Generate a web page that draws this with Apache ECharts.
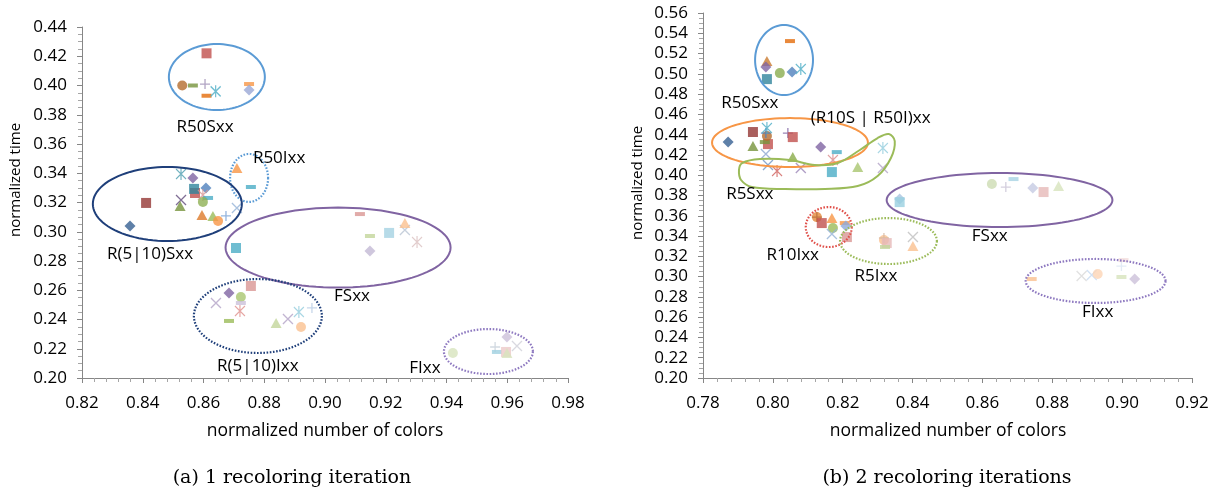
<!DOCTYPE html>
<html><head><meta charset="utf-8">
<script src="https://cdn.jsdelivr.net/npm/echarts@6/dist/echarts.min.js"></script>
<style>html,body{margin:0;padding:0;background:#fff}#c{width:1225px;height:493px}</style>
</head><body><div id="c"></div>
<script>
// ---------------- DATA (normalized number of colors, normalized time) ----------------
// (a) 1 recoloring iteration
const leftR50S   = [[0.861,0.422],[0.853,0.400],[0.8565,0.400],[0.8605,0.401],[0.861,0.393],[0.864,0.396],[0.875,0.401],[0.875,0.397]];
const leftR50I   = [[0.871,0.3436],[0.8756,0.3306]];
const leftR510S  = [[0.8526,0.3395],[0.8565,0.3368],[0.8572,0.3265],[0.8569,0.3293],[0.8608,0.3299],[0.8598,0.3251],[0.8615,0.3231],[0.8598,0.3204],[0.8526,0.3217],[0.8523,0.3176],[0.8411,0.3197],[0.8358,0.3039],[0.8595,0.3115],[0.8631,0.3108],[0.8674,0.3108],[0.8648,0.3074],[0.8710,0.3162]];
const leftFS     = [[0.8707,0.2889],[0.9115,0.3121],[0.9263,0.3012],[0.9263,0.3060],[0.9211,0.2992],[0.9148,0.2971],[0.9303,0.2930],[0.9148,0.2868]];
const leftR510I  = [[0.8756,0.2629],[0.8684,0.2581],[0.8641,0.2513],[0.8723,0.2554],[0.8723,0.2513],[0.8720,0.2458],[0.8684,0.2390],[0.8839,0.2376],[0.8878,0.2403],[0.8914,0.2451],[0.8957,0.2479],[0.8921,0.2349]];
const leftFI     = [[0.9421,0.2171],[0.9560,0.2212],[0.9566,0.2178],[0.9599,0.2280],[0.9596,0.2178],[0.9599,0.2171],[0.9632,0.2219]];
// (b) 2 recoloring iterations
const rightR50S    = [[0.8049,0.5323],[0.7983,0.5126],[0.7980,0.5067],[0.7983,0.4948],[0.8020,0.5007],[0.8055,0.5017],[0.8080,0.5047]];
const rightR10S50I = [[0.7872,0.4327],[0.7943,0.4426],[0.7986,0.4307],[0.7977,0.4327],[0.7983,0.4386],[0.7980,0.4416],[0.7983,0.4465],[0.8043,0.4416],[0.8057,0.4376],[0.7943,0.4288],[0.8137,0.4278],[0.8183,0.4228]];
const rightR5S     = [[0.7980,0.4209],[0.8057,0.4179],[0.7986,0.4100],[0.8012,0.4041],[0.8080,0.4071],[0.8172,0.4150],[0.8169,0.4031],[0.8243,0.4080],[0.8315,0.4268],[0.8315,0.4071]];
const rightR10I    = [[0.8126,0.3587],[0.8126,0.3587],[0.8140,0.3528],[0.8169,0.3578],[0.8172,0.3479],[0.8169,0.3420],[0.8206,0.3528],[0.8209,0.3499],[0.8212,0.3390]];
const rightR5I     = [[0.8318,0.3361],[0.8318,0.3381],[0.8326,0.3331],[0.8321,0.3292],[0.8401,0.3390],[0.8401,0.3302]];
const rightFS      = [[0.8363,0.3765],[0.8363,0.3735],[0.8627,0.3913],[0.8667,0.3883],[0.8689,0.3962],[0.8744,0.3873],[0.8775,0.3834],[0.8818,0.3893]];
const rightFI      = [[0.8741,0.2976],[0.8884,0.3006],[0.8913,0.3016],[0.8930,0.3025],[0.8998,0.3104],[0.9004,0.3163],[0.8998,0.2996],[0.9036,0.2976]];

// axis ranges / tick labels
const leftXTicks  = [0.82,0.84,0.86,0.88,0.90,0.92,0.94,0.96,0.98];
const leftYTicks  = [0.20,0.22,0.24,0.26,0.28,0.30,0.32,0.34,0.36,0.38,0.40,0.42,0.44];
const rightXTicks = [0.78,0.80,0.82,0.84,0.86,0.88,0.90,0.92];
const rightYTicks = [0.20,0.22,0.24,0.26,0.28,0.30,0.32,0.34,0.36,0.38,0.40,0.42,0.44,0.46,0.48,0.50,0.52,0.54,0.56];

// group annotations: [centerX, centerY, radiusX, radiusY] in data units
const leftGroups  = [[0.8644,0.4058,0.0158,0.02256],[0.8750,0.3368,0.00626,0.01641],[0.8481,0.3190,0.02453,0.0253],[0.9043,0.2892,0.03704,0.02735],[0.8779,0.2424,0.02107,0.0253],[0.9538,0.2181,0.01465,0.01538]];
const rightGroups = [[0.8032,0.5136,0.00829,0.03452],[0.8049,0.4322,0.02231,0.02416],[0.8649,0.3755,0.03232,0.02663],[0.8160,0.3489,0.00658,0.01972],[0.8331,0.3351,0.01387,0.02268],[0.8924,0.2957,0.02002,0.0217]];
const rightR5SOutline = [[0.7912,0.4120],[0.7963,0.4160],[0.8049,0.4150],[0.8120,0.4101],[0.8186,0.4120],[0.8249,0.4249],[0.8300,0.4367],[0.8332,0.4406],[0.8349,0.4337],[0.8338,0.4170],[0.8300,0.3992],[0.8243,0.3893],[0.8149,0.3864],[0.8035,0.3864],[0.7940,0.3884],[0.7909,0.3953],[0.7903,0.4051]];

// group labels
const leftLabelText  = ['R50Sxx','R50Ixx','R(5|10)Sxx','FSxx','R(5|10)Ixx','FIxx'];
const leftLabelAt    = [[0.8605,0.3716],[0.8849,0.3504],[0.8424,0.2848],[0.9089,0.2561],[0.8779,0.2082],[0.9329,0.2068]];
const rightLabelText = ['R50Sxx','(R10S | R50I)xx','R5Sxx','FSxx','R10Ixx','R5Ixx','FIxx'];
const rightLabelAt   = [[0.7934,0.4712],[0.8280,0.4564],[0.7934,0.3815],[0.8621,0.3400],[0.8057,0.3213],[0.8295,0.3006],[0.8930,0.2651]];

// ---------------- STYLES (marker shape | colour), parallel to the data ----------------
const MK = {
  leftR50S:  ['sq|#c0504d','ci|#b46d2e','da|#77933c','pl|#9f8fb5','da|#e46c0a','as|#4bacc6','da|#f79646','di|#9aa8d6'],
  leftR50I:  ['tr|#f79646','da|#4bacc6'],
  leftR510S: ['as|#4f9fb0','di|#8064a2','sq|#c0504d','sq|#31859c','di|#4f81bd','as|#d99694','da|#4bacc6','ci|#8fb054','xx|#604a7b','tr|#77933c','sq|#953735','di|#366092','tr|#dd7a2a','tr|#9bbb59','pl|#7aa3d6','ci|#f79646','xx|#95b3d7'],
  leftFS:    ['sq|#4bacc6','da|#d99694','xx|#b9c4d3','tr|#fac090','sq|#a5d2e2','da|#c3d69b','as|#dbc1c0','di|#c3b9d5'],
  leftR510I: ['sq|#d99694','di|#8064a2','xx|#b3a2c7','ci|#a9c66f','da|#ccc1da','as|#e0908c','da|#9bbb59','tr|#c3d69b','xx|#b3a2c7','as|#93cddd','pl|#b9cde5','ci|#fac090'],
  leftFI:    ['ci|#d7e4bd','pl|#c7cfd9','da|#9fcfe0','di|#ccc1da','sq|#ecc9c8','tr|#d7e4bd','xx|#d0d0d8'],
  rightR50S:    ['da|#e46c0a','tr|#c97a30','di|#8064a2','sq|#31859c','ci|#8aac4f','di|#4f81bd','as|#4bacc6'],
  rightR10S50I: ['di|#366092','sq|#953735','sq|#c0504d','da|#77933c','ci|#b46d2e','pl|#4f81bd','as|#4bacc6','pl|#8064a2','sq|#c0504d','tr|#77933c','di|#8064a2','da|#4bacc6'],
  rightR5S:     ['xx|#8ca6cf','tr|#8aab4a','xx|#6f93c5','as|#d0605c','xx|#9c87b8','as|#d98a8a','sq|#4bacc6','tr|#a9c66f','as|#93cddd','xx|#b3a2c7'],
  rightR10I:    ['ci|#e3883b','pl|#b86a3a','sq|#c0504d','tr|#f79646','ci|#9bbb59','xx|#95b3d7','da|#f79646','di|#8eaadb','sq|#d99694'],
  rightR5I:     ['ci|#fac090','pl|#d4b8a0','sq|#e6b9b8','da|#c3d69b','xx|#bfbfbf','tr|#fac090'],
  rightFS:      ['di|#a9c4e0','sq|#99cfe0','ci|#cddcb3','pl|#c9c3d6','da|#a8d3e3','di|#c5cbe2','sq|#e6b9b8','tr|#d7e4bd'],
  rightFI:      ['da|#fac090','xx|#d9d9d9','xx|#c6d9f1','ci|#fcd5b5','pl|#dce6f2','da|#f2dcdb','da|#d7e4bd','di|#ccc1da']
};
const leftGroupStyle  = ['#5b9bd5|solid','#5b9bd5|dot','#1f3f7a|solid','#8064a2|solid','#1f3f7a|dot','#8e79c0|dot'];
const rightGroupStyle = ['#5b9bd5|solid','#f79646|solid','#8064a2|solid','#e0504a|dot','#9bbb59|dot','#8e79c0|dot'];

const SYM = {
  sq:{symbol:'rect', size:10},
  ci:{symbol:'circle', size:10},
  tr:{symbol:'triangle', size:[11,10]},
  di:{symbol:'diamond', size:[11,11]},
  da:{symbol:'rect', size:[10,4]},
  pl:{symbol:'path://M5,0L5,10M0,5L10,5', size:10, stroke:true},
  xx:{symbol:'path://M0,0L10,10M0,10L10,0', size:10, stroke:true},
  as:{symbol:'path://M0,0L10,10M0,10L10,0M5,-1L5,11', size:[10,12], stroke:true}
};

const FONT = 'Open Sans';
function items(pts, codes){
  return pts.map((p,i)=>{
    const [s,c] = codes[i].split('|'); const d = SYM[s];
    return {value:p, symbol:d.symbol, symbolSize:d.size,
      itemStyle: d.stroke ? {color:'rgba(0,0,0,0)', borderColor:c, borderWidth:1.3} : {color:c, borderWidth:0}};
  });
}
function scatter(name, pts, idx){
  return {type:'scatter', name, xAxisIndex:idx, yAxisIndex:idx, data:items(pts, MK[name]), z:3, silent:true, animation:false};
}
function ellipseSeries(groups, styles, idx){
  return {type:'custom', xAxisIndex:idx, yAxisIndex:idx, data:groups, z:5, silent:true, clip:false,
    encode:{x:0,y:1},
    renderItem:(params, api)=>{
      const cx=api.value(0), cy=api.value(1);
      const c = api.coord([cx,cy]);
      const s = api.size([api.value(2), api.value(3)], [cx,cy]);
      const pts=[]; for(let i=0;i<96;i++){const t=i/96*2*Math.PI; pts.push([c[0]+s[0]*Math.cos(t), c[1]+s[1]*Math.sin(t)]);}
      const [col, kind] = styles[params.dataIndex].split('|');
      return {type:'polygon', shape:{points:pts}, style:{fill:'none', stroke:col, lineWidth: kind==='dot'?2.2:2, lineDash: kind==='dot'?[1.6,1.6]:null}};
    }};
}
function outlineSeries(outline, color, idx){
  return {type:'custom', xAxisIndex:idx, yAxisIndex:idx, data:[outline[0]], z:5, silent:true, clip:false,
    encode:{x:0,y:1},
    renderItem:(params, api)=>({type:'polygon', shape:{points:outline.map(p=>api.coord(p)), smooth:0.35},
      style:{fill:'none', stroke:color, lineWidth:2}})};
}
function labelSeries(texts, at, idx){
  return {type:'custom', xAxisIndex:idx, yAxisIndex:idx, data:at, z:6, silent:true, clip:false,
    encode:{x:0,y:1},
    renderItem:(params, api)=>{
      const c = api.coord([api.value(0), api.value(1)]);
      return {type:'text', x:c[0], y:c[1], style:{text:texts[params.dataIndex], align:'center', verticalAlign:'middle',
        font:'17px "'+FONT+'"', fill:'#000'}};
    }};
}
function xAxis(ticks, idx){
  return {type:'value', gridIndex:idx, min:ticks[0], max:ticks[ticks.length-1], interval:0.02,
    axisLine:{show:true, onZero:false, lineStyle:{color:'#868686', width:1}},
    axisTick:{show:true, inside:false, length:5, lineStyle:{color:'#868686'}},
    minorTick:{show:true, splitNumber:5, length:4, lineStyle:{color:'#a6a6a6'}},
    splitLine:{show:false},
    axisLabel:{margin:17, fontSize:17, fontFamily:FONT, color:'#000', formatter:v=>v.toFixed(2)}};
}
function yAxis(ticks, idx){
  return {type:'value', gridIndex:idx, min:ticks[0], max:ticks[ticks.length-1], interval:0.02,
    axisLine:{show:true, onZero:false, lineStyle:{color:'#868686', width:1}},
    axisTick:{show:true, inside:false, length:5, lineStyle:{color:'#868686'}},
    minorTick:{show:true, splitNumber:4, length:4, lineStyle:{color:'#a6a6a6'}},
    splitLine:{show:false},
    axisLabel:{margin:15, fontSize:17, fontFamily:FONT, color:'#000', formatter:v=>v.toFixed(2)}};
}

const chart = echarts.init(document.getElementById('c'), null, {renderer:'canvas'});
chart.setOption({
  animation:false,
  backgroundColor:'#fff',
  grid:[{left:82, top:27, width:486, height:351}, {left:703, top:13, width:489, height:365}],
  xAxis:[xAxis(leftXTicks,0), xAxis(rightXTicks,1)],
  yAxis:[yAxis(leftYTicks,0), yAxis(rightYTicks,1)],
  series:[
    scatter('leftR50S', leftR50S, 0), scatter('leftR50I', leftR50I, 0), scatter('leftR510S', leftR510S, 0),
    scatter('leftFS', leftFS, 0), scatter('leftR510I', leftR510I, 0), scatter('leftFI', leftFI, 0),
    scatter('rightR50S', rightR50S, 1), scatter('rightR10S50I', rightR10S50I, 1), scatter('rightR5S', rightR5S, 1),
    scatter('rightR10I', rightR10I, 1), scatter('rightR5I', rightR5I, 1), scatter('rightFS', rightFS, 1), scatter('rightFI', rightFI, 1),
    ellipseSeries(leftGroups, leftGroupStyle, 0),
    ellipseSeries(rightGroups, rightGroupStyle, 1),
    outlineSeries(rightR5SOutline, '#9bbb59', 1),
    labelSeries(leftLabelText, leftLabelAt, 0),
    labelSeries(rightLabelText, rightLabelAt, 1)
  ],
  graphic:[
    {type:'text', x:325, y:431, style:{text:'normalized number of colors', align:'center', verticalAlign:'middle', font:'17.5px "'+FONT+'"', fill:'#000'}},
    {type:'text', x:948, y:431, style:{text:'normalized number of colors', align:'center', verticalAlign:'middle', font:'17.5px "'+FONT+'"', fill:'#000'}},
    {type:'text', x:16, y:180, rotation:Math.PI/2, style:{text:'normalized time', align:'center', verticalAlign:'middle', font:'15px "'+FONT+'"', fill:'#000'}},
    {type:'text', x:638, y:183, rotation:Math.PI/2, style:{text:'normalized time', align:'center', verticalAlign:'middle', font:'15px "'+FONT+'"', fill:'#000'}},
    {type:'text', x:292, y:478, style:{text:'(a) 1 recoloring iteration', align:'center', verticalAlign:'middle', font:'19px "DejaVu Serif"', fill:'#000'}},
    {type:'text', x:947, y:478, style:{text:'(b) 2 recoloring iterations', align:'center', verticalAlign:'middle', font:'19px "DejaVu Serif"', fill:'#000'}}
  ]
});
</script>
</body></html>
